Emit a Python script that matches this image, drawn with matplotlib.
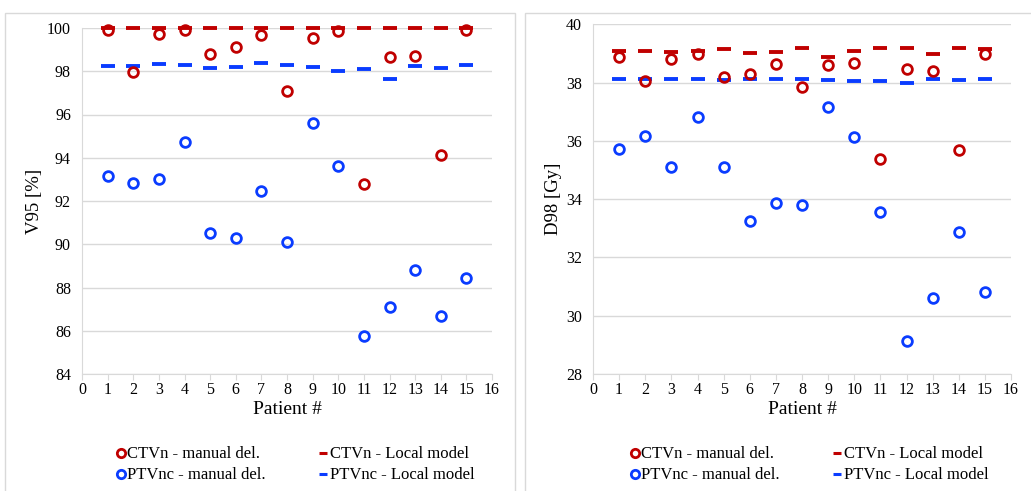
import matplotlib.pyplot as plt
from matplotlib.lines import Line2D
from matplotlib.patches import Rectangle
import numpy as np

plt.rcParams['font.family'] = ['Liberation Serif', 'DejaVu Serif']

patients = np.arange(1, 16)

# V95 [%]
v95_ctvn_manual = [99.9, 97.97, 99.7, 99.9, 98.78, 99.12, 99.68, 97.09, 99.54, 99.85,
                   92.8, 98.64, 98.72, 94.11, 99.9]
v95_ctvn_local = [100.0, 100.0, 100.0, 100.0, 100.0, 100.0, 100.0, 100.0, 100.0, 100.0,
                  100.0, 100.0, 99.98, 100.0, 100.0]
v95_ptvnc_manual = [93.17, 92.82, 93.03, 94.73, 90.53, 90.29, 92.46, 90.12, 95.59, 93.63,
                    85.77, 87.11, 88.79, 86.68, 88.42]
v95_ptvnc_local = [98.23, 98.25, 98.33, 98.29, 98.17, 98.18, 98.37, 98.29, 98.18, 98.0,
                   98.09, 97.66, 98.24, 98.17, 98.31]

# D98 [Gy]
d98_ctvn_manual = [38.87, 38.04, 38.81, 38.98, 38.2, 38.29, 38.64, 37.86, 38.61, 38.68,
                   35.38, 38.46, 38.4, 35.68, 38.98]
d98_ctvn_local = [39.09, 39.1, 39.06, 39.09, 39.15, 39.0, 39.05, 39.17, 38.89, 39.08,
                  39.2, 39.2, 38.97, 39.19, 39.14]
d98_ptvnc_manual = [35.73, 36.17, 35.09, 36.82, 35.09, 33.26, 33.87, 33.79, 37.17, 36.14,
                    33.56, 29.13, 30.61, 32.87, 30.8]
d98_ptvnc_local = [38.11, 38.12, 38.13, 38.12, 38.1, 38.11, 38.13, 38.11, 38.1, 38.06,
                   38.07, 38.0, 38.13, 38.1, 38.13]

red = '#C00000'
blue = '#0A3CFF'
W, H = 1031, 491

fig = plt.figure(figsize=(W / 100, H / 100), dpi=100)

# panel frames
fig.patches.append(Rectangle((5 / W, -0.1), 510 / W, 1.1 - 13 / H, transform=fig.transFigure,
                             fill=False, edgecolor='#d9d9d9', lw=1))
fig.patches.append(Rectangle((525 / W, -0.1), 600 / W, 1.1 - 13 / H, transform=fig.transFigure,
                             fill=False, edgecolor='#d9d9d9', lw=1))


def panel(rect, cm, cl, pm, pl, ylim, ylabel, legend_x):
    ax = fig.add_axes(rect)
    ax.plot(patients, cl, ls='none', marker='_', ms=10.5, mew=2.8, color=red, zorder=3, clip_on=False)
    ax.plot(patients, pl, ls='none', marker='_', ms=10.5, mew=2.8, color=blue, zorder=3, clip_on=False)
    ax.plot(patients, cm, ls='none', marker='o', ms=7, mew=2, mfc='none', mec=red, zorder=4, clip_on=False)
    ax.plot(patients, pm, ls='none', marker='o', ms=7, mew=2, mfc='none', mec=blue, zorder=4, clip_on=False)
    ax.set_xlim(0, 16)
    ax.set_ylim(*ylim)
    ax.set_xticks(range(0, 17))
    ax.set_yticks(np.arange(ylim[0], ylim[1] + 0.1, 2))
    ax.grid(axis='y', color='#d9d9d9', lw=1)
    ax.set_axisbelow(True)
    for s in ['top', 'right']:
        ax.spines[s].set_visible(False)
    for s in ['left', 'bottom']:
        ax.spines[s].set_color('#d9d9d9')
    ax.tick_params(axis='y', length=0, labelsize=11.5, pad=8)
    ax.tick_params(axis='x', length=4, color='#d9d9d9', labelsize=11.5, pad=2)
    ax.set_xlabel('Patient #', fontsize=14, labelpad=2)
    ax.set_ylabel(ylabel, fontsize=13.5, labelpad=3)

    handles = [
        Line2D([], [], ls='none', marker='o', ms=6, mew=2, mfc='none', mec=red),
        Line2D([], [], ls='none', marker='o', ms=6, mew=2, mfc='none', mec=blue),
        Line2D([], [], ls='none', marker='_', ms=6, mew=2.2, color=red),
        Line2D([], [], ls='none', marker='_', ms=6, mew=2.2, color=blue),
    ]
    labels = ['CTVn - manual del.', 'PTVnc - manual del.',
              'CTVn - Local model', 'PTVnc - Local model']
    fig.legend(handles, labels, ncol=2, loc='upper left',
               bbox_to_anchor=(legend_x / W, 1 - 438 / H), frameon=False,
               fontsize=12, handlelength=0.5, handletextpad=0.15,
               columnspacing=3.2, labelspacing=0.3, borderpad=0)
    return ax


panel([82 / W, (H - 374) / H, 410 / W, 346 / H],
      v95_ctvn_manual, v95_ctvn_local, v95_ptvnc_manual, v95_ptvnc_local,
      (84, 100), 'V95 [%]', 108)
panel([593 / W, (H - 374) / H, 418 / W, 349.7 / H],
      d98_ctvn_manual, d98_ctvn_local, d98_ptvnc_manual, d98_ptvnc_local,
      (28, 40), 'D98 [Gy]', 622)

fig.savefig('out.png', dpi=100)
